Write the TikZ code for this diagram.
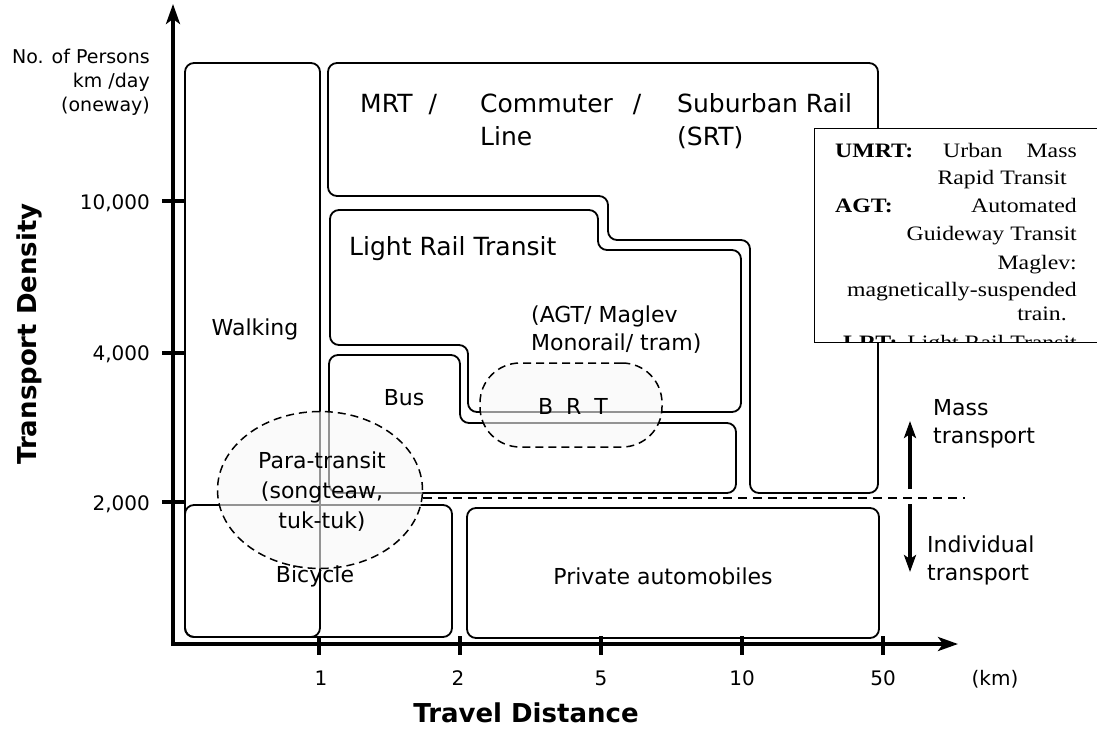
\documentclass[tikz,border=0pt]{standalone}
\usepackage{fontspec}
\setmainfont{DejaVu Sans}
\newfontfamily\legendfont{Liberation Serif}[FakeStretch=1.16]
\usetikzlibrary{arrows.meta,shapes.geometric}

\tikzset{
  region/.style={draw=black, line width=1.8pt, rounded corners=9pt},
  axisline/.style={line width=3.5pt,
    {Stealth[length=20pt,width=14pt,inset=5pt]}-{Stealth[length=20pt,width=14pt,inset=5pt]}},
  tickmark/.style={line width=3.5pt},
  lbl/.style={font=\fontsize{22}{27}\selectfont, inner sep=0pt},
  biglbl/.style={font=\fontsize{25}{31}\selectfont, inner sep=0pt},
  axnum/.style={font=\fontsize{20}{24}\selectfont, inner sep=0pt},
  unitlbl/.style={font=\fontsize{19}{24}\selectfont, inner sep=0pt},
  axtitle/.style={font=\bfseries\fontsize{26}{30}\selectfont, inner sep=0pt},
  legendtxt/.style={font=\legendfont\fontsize{20.5}{27}\selectfont, inner sep=0pt},
  legendkey/.style={font=\legendfont\bfseries\fontsize{20.5}{27}\selectfont, inner sep=0pt},
  cloud/.style={draw=black, line width=1.5pt, dash pattern=on 8pt off 5pt,
    fill=gray!7, fill opacity=0.6, draw opacity=1, inner sep=0pt},
  divider/.style={line width=1.5pt, dash pattern=on 9pt off 6pt},
  flow/.style={line width=3.5pt, -{Stealth[length=17pt,width=12pt,inset=4pt]}},
}

\begin{document}
\begin{tikzpicture}[x=1pt,y=-1pt]
\useasboundingbox (0,0) rectangle (1097,731);

% ---- mode regions ----
% walking
\draw[region] (185,63) rectangle (320,637);
% MRT / commuter / suburban rail (stepped outline)
\draw[region] (600,63) -- (878,63) -- (878,493) -- (750,493) -- (750,240)
  -- (608,240) -- (608,196) -- (328,196) -- (328,63) -- cycle;
% light rail transit
\draw[region] (460,210) -- (598,210) -- (598,250) -- (741,250) -- (741,412)
  -- (468,412) -- (468,345) -- (330,345) -- (330,210) -- cycle;
% bus
\draw[region] (400,355) -- (460,355) -- (460,423) -- (736,423) -- (736,493)
  -- (329,493) -- (329,355) -- cycle;
% bicycle and private cars
\draw[region] (185,505) rectangle (452,637);
\draw[region] (467,508) rectangle (879,638);

% ---- axes ----
\coordinate (O) at (173,644);
\coordinate (ytop) at (173,4);
\coordinate (xend) at (958,644);
\draw[axisline] (ytop) -- (O) -- (xend);
\foreach \yy in {201,353,502} \draw[tickmark] (162,\yy) -- (184,\yy);
\foreach \xx in {319,460,601,742,883} \draw[tickmark] (\xx,636) -- (\xx,655);

\node[unitlbl, anchor=base east] (u1) at (150,63) {No. of Persons};
\node[unitlbl, anchor=base east] (u2) at (150,87) {km /day};
\node[unitlbl, anchor=base east] (u3) at (150,111) {(oneway)};
\node[axnum, anchor=base east] (y1) at (150,209) {10,000};
\node[axnum, anchor=base east] (y2) at (150,360) {4,000};
\node[axnum, anchor=base east] (y3) at (150,510) {2,000};

\node[axnum, anchor=base] (x1) at (321,685) {1};
\node[axnum, anchor=base] (x2) at (458,685) {2};
\node[axnum, anchor=base] (x3) at (601,685) {5};
\node[axnum, anchor=base] (x4) at (742,685) {10};
\node[axnum, anchor=base] (x5) at (883,685) {50};
\node[axnum, anchor=base] (xu) at (995,685) {(km)};

\node[axtitle, anchor=base] (xt) at (526,722) {Travel Distance};
\node[axtitle, anchor=base, rotate=90] (yt) at (36,334) {Transport Density};

% ---- region labels ----
\node[lbl, anchor=base] (walk) at (255,335) {Walking};
\node[biglbl, anchor=base west] (mrt) at (360,112) {MRT\hspace{16pt}/};
\node[biglbl, anchor=base west] (com1) at (480,112) {Commuter\hspace{20pt}/};
\node[biglbl, anchor=base west] (com2) at (480,145) {Line};
\node[biglbl, anchor=base west] (sub1) at (677,112) {Suburban Rail};
\node[biglbl, anchor=base west] (sub2) at (677,145) {(SRT)};
\node[biglbl, anchor=base west] (lrt) at (349,255) {Light Rail Transit};
\node[lbl, anchor=base west] (agt1) at (531,322) {(AGT/ Maglev};
\node[lbl, anchor=base west] (agt2) at (531,350) {Monorail/ tram)};
\node[lbl, anchor=base] (bus) at (404,405) {Bus};
\node[lbl, anchor=base] (priv) at (663,584) {Private automobiles};

% ---- mass / individual split ----
\coordinate (divStart) at (423,498);
\coordinate (divEnd) at (965,498);
\draw[divider] (divStart) -- (divEnd);
\coordinate (massFrom) at (910,489);
\coordinate (massTo) at (910,421);
\coordinate (indFrom) at (910,504);
\coordinate (indTo) at (910,572);
\draw[flow] (massFrom) -- (massTo);
\draw[flow] (indFrom) -- (indTo);
\node[lbl, anchor=base west] (m1) at (933,415) {Mass};
\node[lbl, anchor=base west] (m2) at (933,443) {transport};
\node[lbl, anchor=base west] (i1) at (927,552) {Individual};
\node[lbl, anchor=base west] (i2) at (927,580) {transport};

% ---- overlapping modes ----
\node[cloud, rectangle, rounded corners=40pt, minimum width=182pt, minimum height=84pt] (brt) at (571,405) {};
\node[lbl, anchor=base] (brtlbl) at (573,414) {B\hspace{13pt}R\hspace{13pt}T};
\node[cloud, ellipse, minimum width=205pt, minimum height=157pt] (para) at (320,490) {};
\node[lbl, anchor=base] (p1) at (322,468) {Para-transit};
\node[lbl, anchor=base] (p2) at (322,498) {(songteaw,};
\node[lbl, anchor=base] (p3) at (322,528) {tuk-tuk)};
\node[lbl, anchor=base] (bike) at (315,582) {Bicycle};

% ---- abbreviations box ----
\node[draw=black, fill=white, line width=1.3pt, anchor=north west,
  minimum width=300pt, minimum height=214pt, inner sep=0pt] (abbr) at (814,128) {};
\begin{scope}
\clip (815,129) rectangle (1097,341);
\node[legendkey, anchor=base west] (k1) at (835,157) {UMRT:};
\node[legendtxt, anchor=base west] (k1a) at (943,157) {Urban};
\node[legendtxt, anchor=base east] (k1b) at (1077,157) {Mass};
\node[legendtxt, anchor=base east] (k2) at (1067,184) {Rapid Transit};
\node[legendkey, anchor=base west] (k3) at (835,212) {AGT:};
\node[legendtxt, anchor=base east] (k3a) at (1077,212) {Automated};
\node[legendtxt, anchor=base east] (k4) at (1077,240) {Guideway Transit};
\node[legendtxt, anchor=base east] (k5) at (1077,269) {Maglev:};
\node[legendtxt, anchor=base east] (k6) at (1077,296) {magnetically-suspended};
\node[legendtxt, anchor=base east] (k7) at (1067,320) {train.};
\node[legendkey, anchor=base west] (k8) at (843,349) {LRT:};
\node[legendtxt, anchor=base east] (k8a) at (1077,349) {Light Rail Transit};
\end{scope}
\end{tikzpicture}
\end{document}
